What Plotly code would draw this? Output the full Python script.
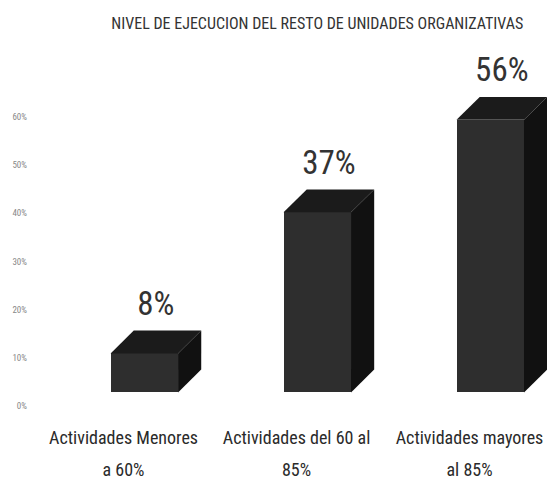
import plotly.graph_objects as go

categories_line1 = ["Actividades Menores", "Actividades del 60 al", "Actividades mayores"]
categories_line2 = ["a 60%", "85%", "al 85%"]
values = [8, 37, 56]
labels = ["8%", "37%", "56%"]
y_ticks = [0, 10, 20, 30, 40, 50, 60]
y_tick_text = ["0%", "10%", "20%", "30%", "40%", "50%", "60%"]

# 3D look parameters (style only)
bar_w = 0.39
shift = 0.12      # perspective shift of the bars relative to their category label
dx = 0.134
dy = 4.7

FONT = "Liberation Sans Narrow, Roboto Condensed, Arial Narrow, Roboto, sans-serif"

fig = go.Figure()

xs = list(range(len(values)))
bx = [i + shift for i in xs]
fig.add_trace(go.Bar(x=bx, y=values, width=bar_w, marker=dict(color="#2e2e2e", line=dict(width=0)),
                     hoverinfo="skip", showlegend=False))

for c, v in zip(bx, values):
    l = c - bar_w / 2
    r = c + bar_w / 2
    # top face
    fig.add_trace(go.Scatter(x=[l, l + dx, r + dx, r, l], y=[v, v + dy, v + dy, v, v],
                             fill="toself", fillcolor="#1b1b1b", mode="lines",
                             line=dict(width=0, color="#1b1b1b"), hoverinfo="skip", showlegend=False))
    # side face
    fig.add_trace(go.Scatter(x=[r, r + dx, r + dx, r, r], y=[0, dy, v + dy, v, 0],
                             fill="toself", fillcolor="#111111", mode="lines",
                             line=dict(width=0, color="#111111"), hoverinfo="skip", showlegend=False))

fig.add_trace(go.Scatter(x=[c + dx / 2 for c in bx], y=[v + dy + 1.5 for v in values], text=labels,
                         mode="text", textposition="top center", cliponaxis=False,
                         textfont=dict(family=FONT, size=33, color="#333333"),
                         hoverinfo="skip", showlegend=False))

# invisible helpers so the overlay axes (second label row / back-wall value axis) are drawn
fig.add_trace(go.Scatter(x=[0], y=[0], xaxis="x2", yaxis="y", mode="markers",
                         marker=dict(opacity=0), hoverinfo="skip", showlegend=False))
fig.add_trace(go.Scatter(x=[0], y=[0], xaxis="x", yaxis="y2", mode="markers",
                         marker=dict(opacity=0), hoverinfo="skip", showlegend=False))

xrange = [-0.483, 2.448]

fig.update_layout(
    width=547, height=479,
    margin=dict(l=40, r=0, t=60, b=72),
    paper_bgcolor="white", plot_bgcolor="white",
    title=dict(text="NIVEL DE EJECUCION DEL RESTO DE UNIDADES ORGANIZATIVAS",
               x=0.58, xanchor="center", y=0.952, yanchor="middle", yref="container",
               font=dict(family=FONT, size=16, color="#333333")),
    xaxis=dict(range=xrange, tickvals=xs, ticktext=categories_line1, showgrid=False,
               zeroline=False, showline=False, ticks="", ticklabelstandoff=18,
               ticklabeloverflow="allow", automargin=False,
               tickfont=dict(family=FONT, size=18, color="#2a2a2a")),
    xaxis2=dict(range=xrange, overlaying="x", anchor="y", side="bottom",
                tickvals=xs, ticktext=categories_line2, showgrid=False,
                zeroline=False, showline=False, ticks="", ticklabelstandoff=50,
                ticklabeloverflow="allow", automargin=False,
                tickfont=dict(family=FONT, size=18, color="#2a2a2a")),
    yaxis=dict(range=[-3, 68.3], showticklabels=False, showgrid=False,
               zeroline=False, showline=False, ticks="", automargin=False),
    yaxis2=dict(range=[-0.2, 71.8], overlaying="y", anchor="x", side="left",
                tickvals=y_ticks, ticktext=y_tick_text, showgrid=False,
                zeroline=False, showline=False, ticks="", ticklabelstandoff=12,
                automargin=False,
                tickfont=dict(family=FONT, size=9, color="#888888")),
    bargap=0,
)

fig.write_html("out.html", config={"displayModeBar": False},
               post_script="document.body.style.margin='0';document.body.style.overflow='hidden';")
